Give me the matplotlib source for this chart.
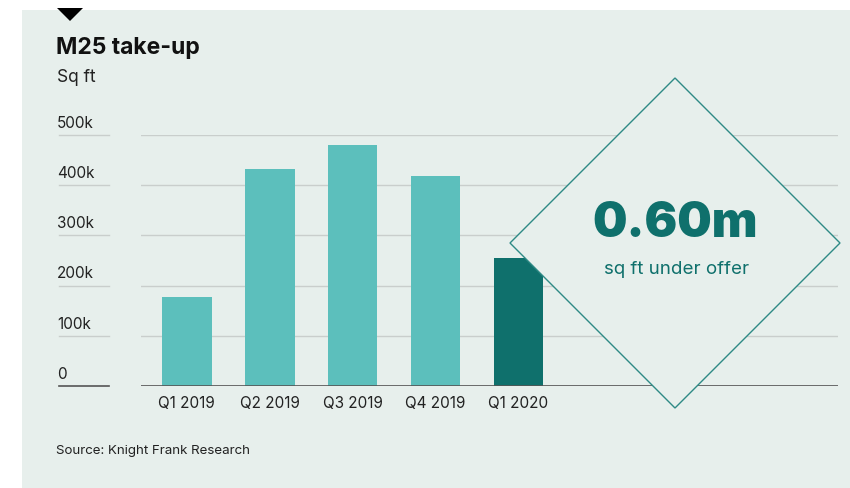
import matplotlib
matplotlib.use('Agg')
import matplotlib.pyplot as plt
from matplotlib.patches import Polygon, Rectangle
from matplotlib.transforms import blended_transform_factory

quarters = ['Q1 2019', 'Q2 2019', 'Q3 2019', 'Q4 2019', 'Q1 2020']
take_up = [177000, 432000, 480000, 418000, 255000]
bar_colors = ['#5cbfbc', '#5cbfbc', '#5cbfbc', '#5cbfbc', '#0f706c']
y_ticks = [0, 100000, 200000, 300000, 400000, 500000]
y_labels = ['0', '100k', '200k', '300k', '400k', '500k']

W, H = 850, 488
bg = '#e7efec'
plt.rcParams['font.family'] = ['Inter', 'DejaVu Sans']

fig = plt.figure(figsize=(W / 100, H / 100), dpi=100)
fig.patch.set_facecolor('white')

def fx(px):
    return px / W

def fy(py):
    return 1 - py / H

# panel + marker triangle
fig.patches.append(Rectangle((fx(22), 0), 1 - fx(22), fy(10), transform=fig.transFigure,
                             facecolor=bg, edgecolor='none', zorder=-10))
fig.patches.append(Polygon([(fx(57), fy(8)), (fx(83), fy(8)), (fx(70), fy(21))],
                           closed=True, transform=fig.transFigure, facecolor='black',
                           edgecolor='none', zorder=1))

ax = fig.add_axes([fx(141), fy(386), fx(838) - fx(141), (386 - 135) / H])
ax.set_facecolor('none')
x = list(range(len(quarters)))
ax.bar(x, take_up, width=0.6, color=bar_colors, zorder=2)
ax.set_xlim(-0.55, 7.85)
ax.set_ylim(0, 500000)
for s in ax.spines.values():
    s.set_visible(False)
ax.set_yticks(y_ticks)
ax.set_yticklabels([])
ax.tick_params(axis='y', length=0)
ax.grid(axis='y', color='#c9cecc', linewidth=1, zorder=1)
ax.axhline(0, color='#555555', linewidth=1.2, zorder=3)
ax.set_xticks(x)
ax.set_xticklabels(quarters, fontsize=11, color='#222222')
ax.tick_params(axis='x', length=0, pad=7)

# label column with short rules
tr = blended_transform_factory(fig.transFigure, ax.transData)
for v, lab in zip(y_ticks, y_labels):
    ax.plot([fx(59), fx(109)], [v, v], transform=tr, clip_on=False,
            color='#555555' if v == 0 else '#c9cecc', linewidth=1.2 if v == 0 else 1)
    ax.annotate(lab, xy=(fx(57), v), xycoords=tr, xytext=(0, 3), textcoords='offset points',
                ha='left', va='bottom', fontsize=11, color='#222222', annotation_clip=False)

# diamond call-out
diamond = Polygon([(fx(675), fy(78)), (fx(840), fy(243)), (fx(675), fy(408)), (fx(510), fy(243))],
                  closed=True, transform=fig.transFigure, facecolor=bg,
                  edgecolor='#2e8a85', linewidth=1, zorder=5)
fig.patches.append(diamond)
fig.text(fx(675), fy(224), '0.60m', ha='center', va='center', fontsize=35,
         fontweight='black', color='#0f706c', zorder=6)
fig.text(fx(677), fy(270), 'sq ft under offer', ha='center', va='center', fontsize=13.5,
         color='#0f706c', zorder=6)

fig.text(fx(56), fy(48), 'M25 take-up', ha='left', va='center', fontsize=16.5,
         fontweight='bold', color='#111111')
fig.text(fx(57), fy(78), 'Sq ft', ha='left', va='center', fontsize=12.5, color='#222222')
fig.text(fx(56), fy(451), 'Source: Knight Frank Research', ha='left', va='center',
         fontsize=9.6, color='#222222')

fig.savefig('out.png', dpi=100, facecolor=fig.get_facecolor())
